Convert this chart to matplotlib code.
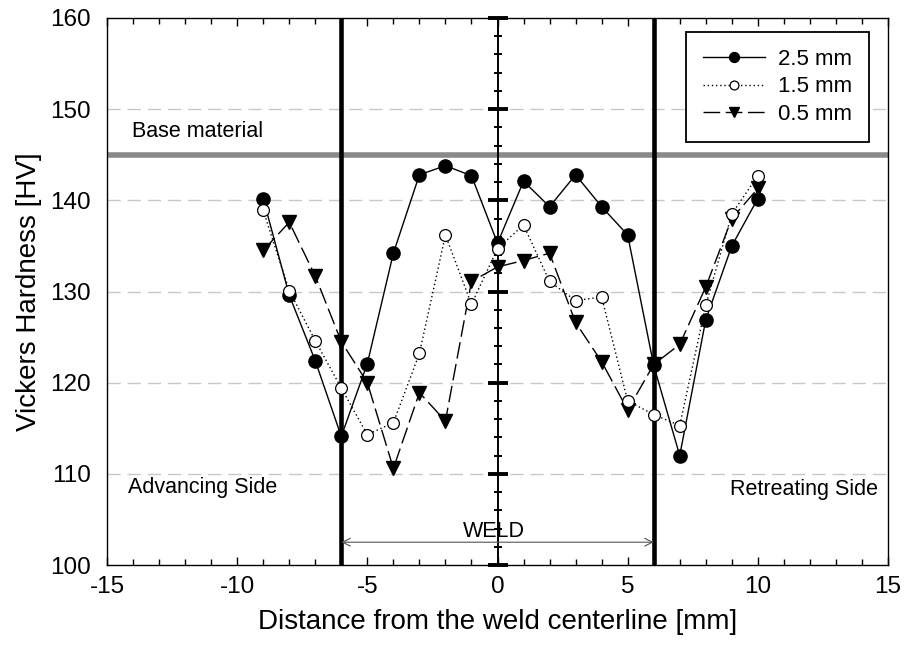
import numpy as np
import matplotlib
matplotlib.use('Agg')
import matplotlib.pyplot as plt
from matplotlib.ticker import MultipleLocator

plt.rcParams['font.family'] = ['Liberation Sans', 'DejaVu Sans']
plt.rcParams['axes.unicode_minus'] = False

# Hardness profiles across the weld
distance = [-9, -8, -7, -6, -5, -4, -3, -2, -1, 0, 1, 2, 3, 4, 5, 6, 7, 8, 9, 10]
hv_25 = [140.2, 129.6, 122.4, 114.1, 122.1, 134.2, 142.8, 143.8, 142.7, 135.3,
         142.1, 139.3, 142.8, 139.3, 136.2, 121.9, 112.0, 126.9, 135.0, 140.2]
hv_15 = [138.9, 130.1, 124.6, 119.4, 114.3, 115.6, 123.2, 136.2, 128.6, 134.7,
         137.3, 131.1, 129.0, 129.4, 118.0, 116.5, 115.3, 128.5, 138.5, 142.7]
hv_05 = [134.5, 137.6, 131.7, 124.5, 120.0, 110.6, 118.9, 115.8, 131.1, 132.7,
         133.4, 134.2, 126.6, 122.3, 117.0, 122.0, 124.2, 130.5, 138.0, 141.3]

base_material = 145
weld_edges = [-6, 6]
grid_levels = [110, 120, 130, 140, 150]

fig = plt.figure(figsize=(9.1, 6.5), dpi=100)
ax = fig.add_axes([107 / 910, 1 - 565 / 650, 781 / 910, 547 / 650])

# dashed grid
for g in grid_levels:
    ax.axhline(g, color='#c8c8c8', lw=1.0, linestyle=(0, (9.5, 5)), zorder=1)

# base material level
ax.axhline(base_material, color='#8a8a8a', lw=4, zorder=2)

# weld zone boundaries
for xe in weld_edges:
    ax.axvline(xe, color='black', lw=3.3, zorder=2)

# center axis with its own ticks
ax.axvline(0, color='black', lw=1.4, zorder=2)
major_y = np.arange(100, 161, 10)
minor_y = [v for v in range(102, 160, 2) if v % 10 != 0]
ax.plot(np.zeros(len(major_y)), major_y, ls='none', marker='_', ms=14.5, mew=2.8,
        color='black', zorder=2, clip_on=False)
ax.plot(np.zeros(len(minor_y)), minor_y, ls='none', marker='_', ms=6, mew=1.4,
        color='black', zorder=2)

# series
ax.plot(distance, hv_05, color='black', lw=1.0, linestyle=(0, (12, 4)),
        marker='v', ms=9.5, mfc='black', mec='black', label='0.5 mm', zorder=3)
ax.plot(distance, hv_25, color='black', lw=1.0, linestyle='-',
        marker='o', ms=9.5, mfc='black', mec='black', label='2.5 mm', zorder=4)
ax.plot(distance, hv_15, color='black', lw=1.0, linestyle=(0, (1, 2)),
        marker='o', ms=8.5, mfc='white', mec='black', mew=0.9, label='1.5 mm', zorder=5)

# annotations
ax.text(-14.05, 146.9, 'Base material', fontsize=15.5, ha='left', va='baseline')
ax.text(-14.18, 107.9, 'Advancing Side', fontsize=15.5, ha='left', va='baseline')
ax.text(14.63, 107.7, 'Retreating Side', fontsize=15.5, ha='right', va='baseline')
ax.text(-0.15, 103.1, 'WELD', fontsize=15.5, ha='center', va='baseline', zorder=6)
ax.annotate('', xy=(weld_edges[0], 102.5), xytext=(weld_edges[1], 102.5),
            arrowprops=dict(arrowstyle='<->', color='#555555', lw=0.8,
                            shrinkA=0, shrinkB=0, mutation_scale=14), zorder=6)

ax.set_xlim(-15, 15)
ax.set_ylim(100, 160)
ax.xaxis.set_major_locator(MultipleLocator(5))
ax.xaxis.set_minor_locator(MultipleLocator(1))
ax.yaxis.set_major_locator(MultipleLocator(10))
ax.tick_params(axis='x', which='both', direction='in', top=True, bottom=True,
               labelsize=17.5, pad=8, width=1.0)
ax.tick_params(axis='x', which='major', length=6)
ax.tick_params(axis='x', which='minor', length=4)
ax.tick_params(axis='y', which='both', length=0, labelsize=17.5, pad=11.5)
for s in ax.spines.values():
    s.set_linewidth(1.0)

ax.set_xlabel('Distance from the weld centerline [mm]', fontsize=20, labelpad=8)
ax.set_ylabel('Vickers Hardness [HV]', fontsize=20, labelpad=6)

# legend in the order of the reference
h, l = ax.get_legend_handles_labels()
order = [1, 2, 0]
leg = ax.legend([h[i] for i in order], [l[i] for i in order], loc='upper right',
                bbox_to_anchor=(0.9757, 0.9744), borderaxespad=0, fontsize=16,
                handlelength=2.8, handletextpad=0.6, labelspacing=0.3,
                borderpad=0.75, fancybox=False, framealpha=1, edgecolor='black',
                markerscale=0.75)
leg.get_frame().set_linewidth(1.3)

fig.savefig('out.png', dpi=100)
